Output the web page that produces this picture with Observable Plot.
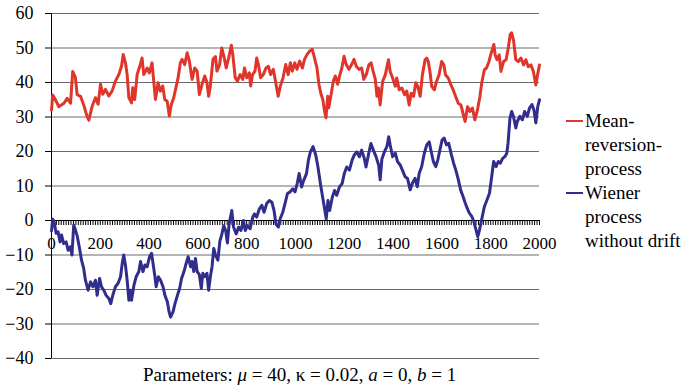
<!DOCTYPE html>
<html>
<head>
<meta charset="utf-8">
<script src="https://cdn.jsdelivr.net/npm/d3@7"></script>
<script src="https://cdn.jsdelivr.net/npm/@observablehq/plot@0.6"></script>
<style>
  html, body { margin: 0; padding: 0; background: #fff; }
  #wrap { position: relative; width: 687px; height: 392px; font-family: "Liberation Serif", "DejaVu Serif", "Noto Serif", serif; color: #000; }
  #chart svg { display: block; }
  #legend { position: absolute; left: 566px; top: 108.7px; font-size: 19px; line-height: 24px; }
  .item { position: relative; padding-left: 19px; }
  .sw { position: absolute; left: 0; top: 11px; width: 17px; height: 2px; }
  #caption { position: absolute; left: 143px; top: 363px; font-size: 19px; line-height: 24px; white-space: nowrap; }
</style>
</head>
<body>
<div id="wrap">
  <div id="chart"></div>
  <div id="legend"></div>
  <div id="caption">Parameters: <i>μ</i> = 40, κ = 0.02, <i>a</i> = 0, <i>b</i> = 1</div>
</div>
<script>
// ---- data ----
const seriesNames = ["Mean-\nreversion-\nprocess", "Wiener\nprocess\nwithout drift"];
const seriesColors = ["#e0352b", "#312d8c"];

const yTicks = [-40, -30, -20, -10, 0, 10, 20, 30, 40, 50, 60];
const xTicks = [0, 200, 400, 600, 800, 1000, 1200, 1400, 1600, 1800, 2000];

const redX = [0,5,16,30,51,64,78,87,98,105,119,132,146,153,167,180,191,201,210,221,235,248,262,276,287,294,303,310,317,328,333,341,351,364,371,378,392,401,412,419,426,437,446,456,464,474,483,491,501,510,519,528,535,546,556,565,576,587,597,606,617,628,637,644,651,662,672,678,689,698,708,716,726,737,743,753,762,773,784,791,800,811,816,824,834,841,848,857,868,879,889,898,909,918,929,938,949,960,970,979,987,997,1006,1017,1028,1037,1047,1058,1069,1078,1088,1096,1105,1112,1119,1125,1132,1136,1146,1155,1163,1173,1182,1190,1199,1208,1219,1230,1240,1249,1260,1271,1280,1290,1301,1310,1318,1327,1334,1340,1347,1357,1368,1381,1388,1398,1409,1415,1425,1436,1447,1456,1466,1474,1484,1493,1501,1511,1520,1531,1538,1544,1551,1558,1569,1578,1588,1599,1608,1615,1626,1637,1646,1656,1667,1678,1688,1695,1705,1715,1725,1735,1746,1756,1763,1774,1783,1793,1802,1813,1818,1826,1835,1842,1853,1863,1872,1880,1886,1894,1903,1913,1924,1935,1944,1954,1965,1975,1985,1992,2000];
const redY = [32,36.4,35,33,34,35.4,34,43.2,41.5,36.5,36,33.5,30.1,29.1,33.2,35.6,33.7,39.5,36.6,38,36.1,37.5,40.4,42.3,44.7,48.1,45.7,42.3,35.6,34.1,38.5,35.1,42.3,45.2,47.1,42.3,44.2,42.8,45.7,40.4,35.1,39.9,37.5,39,35.1,34.6,30.3,33.6,35.6,38.5,41.4,45.7,46.7,45.2,48.6,46.2,40.9,44.2,43.3,36.5,39.5,41.9,40,36,39,46.8,47.5,43.3,45.2,50,47.1,44.2,47.1,50.8,48.1,41.4,40.4,42.3,40.9,44.2,41.4,42.8,39,42.3,43.3,47.1,45.2,41.4,42.3,44.2,44.7,42.3,43.8,40.4,36,39,41.4,45.2,42.3,45.7,43.3,45.7,43.8,46.2,44.2,46.7,48.1,49.1,49.6,47.1,44.2,39.5,36.5,35.1,31.7,29.8,36,32.6,36.5,40.4,41.9,39.5,42.3,44.2,47.6,45.2,43.8,45.2,46.7,44.7,43.8,44.2,40.9,42.3,45.2,45.7,43.3,41,36,38.4,33.5,40.3,42.2,46.6,43.2,41.3,38.9,41.3,37.9,38.4,36.5,37.5,33.5,36.9,36,39.9,38.9,36,42.2,46.6,47.1,46.1,43.2,38.9,37.9,40.3,42.2,46.1,45.1,42.2,41.3,39.3,37.9,36,34,33.5,30.6,28.7,33,31.6,32.6,29.2,32.1,36,39.8,43.7,44.2,46.1,48.5,51,48,46.6,48,43.2,46.1,46.6,50,53.9,54.4,52,46.6,46.1,47.1,45.1,46.6,44.6,45.1,43.2,39.3,42.2,45.1];

const blueX = [0,5,11,19,27,35,41,50,60,68,77,84,91,98,106,115,123,132,139,150,160,170,180,187,197,205,214,224,235,243,251,262,273,283,290,296,303,310,317,324,328,338,347,358,365,375,383,392,402,410,415,424,429,438,447,457,465,475,482,488,498,506,516,525,533,543,550,560,570,576,583,590,597,606,614,620,628,637,644,651,658,665,672,682,690,698,706,714,721,728,739,746,757,767,776,787,794,803,814,825,832,841,852,862,871,882,893,903,912,920,930,937,948,957,967,978,989,998,1007,1015,1025,1034,1045,1053,1061,1072,1083,1092,1102,1110,1118,1126,1133,1140,1151,1160,1169,1180,1191,1200,1210,1221,1232,1241,1251,1262,1271,1282,1289,1300,1309,1319,1330,1341,1347,1354,1365,1375,1382,1388,1398,1409,1418,1429,1438,1449,1459,1470,1479,1490,1499,1507,1517,1528,1538,1548,1556,1565,1575,1583,1592,1601,1609,1619,1628,1639,1648,1657,1666,1677,1687,1696,1704,1713,1723,1731,1740,1747,1754,1764,1774,1785,1795,1804,1812,1822,1831,1839,1849,1858,1866,1871,1879,1886,1893,1903,1909,1920,1930,1939,1950,1959,1969,1977,1985,1993,2000];
const blueY = [-3,0.4,-0.5,-3.7,-3.3,-6.2,-4.2,-6.7,-6.2,-8.6,-7.6,-10,-1.3,-2.7,-4.7,-8.1,-11.5,-13.9,-17.3,-20.2,-17.8,-19.2,-17.3,-21.7,-16.8,-19.2,-20.2,-21.7,-22.6,-24.1,-21.7,-19.2,-18.2,-16.3,-12.4,-10,-12.9,-17.3,-23.1,-20.2,-23.1,-18.7,-16.3,-14.8,-11.9,-14.8,-12.9,-13.4,-10.5,-9.5,-11.9,-16.3,-19.2,-16.3,-17.3,-19.2,-21.7,-23.6,-26.5,-28,-26.5,-24.1,-21.7,-19.7,-16.8,-14.8,-12.9,-10.5,-13.4,-11.9,-14.8,-11,-14.8,-15.7,-19.7,-15.3,-16.3,-15.3,-20.2,-16.3,-13.4,-8.1,-10,-11.5,-6,-4,-1.5,-3,-6.5,-1,2.9,-1.9,-3.9,-1.9,-2.9,0,-2.9,-1.5,-2.4,1,1.9,1,3.4,4.4,2.4,4.9,5.8,5.3,2.9,-1,-1.9,0.5,2.4,4.9,7.8,8.3,9.2,8.3,10.7,13.6,9.7,11.7,13.6,17.5,19.9,21.4,19,15.5,10.7,7.3,3.9,0.5,5.8,2.9,6.8,8.7,7.3,9.7,10.7,13.6,15.5,14.6,17.5,19,19.9,18.5,20.4,18,15.5,19.4,22.3,20.4,18.5,16,11.8,17.8,20,21.5,24.3,21.9,18.5,19.5,17.1,16.1,14.6,12.7,12.2,8.9,10.8,12.2,9.8,13.7,15.6,19.5,21.9,22.8,20,17.1,15.6,17.5,20.5,23.4,23.9,21.9,22.4,19,16.6,14.6,12.2,8.8,6.9,5,3.5,2.1,1.1,-0.3,-2.8,-4.7,-2.8,0.6,4,6,7.9,12.7,17.1,15.6,17.1,16.6,18,18.5,19.5,22.4,29.7,31.6,30.2,26.8,28.7,30.2,29.2,31.6,30.2,32.6,33.6,32.1,28.3,33.1,35];

// ---- build ----
const red = redX.map((x, i) => ({x, y: redY[i]}));
const blue = blueX.map((x, i) => ({x, y: blueY[i]}));
const minorTicks = d3.range(0, 2001, 10);
const FONT = "'Liberation Serif', 'DejaVu Serif', 'Noto Serif', serif";

const chart = Plot.plot({
  width: 687,
  height: 392,
  marginLeft: 51,
  marginRight: 148,
  marginTop: 13,
  marginBottom: 34,
  x: {domain: [0, 2000], axis: null},
  y: {domain: [-40, 60], axis: null},
  style: {fontFamily: FONT, fontSize: "18px", background: "white", color: "black"},
  marks: [
    Plot.ruleY(yTicks.filter(d => d !== 0), {y: d => d, stroke: "#6a6a6a", strokeWidth: 1}),
    Plot.axisY(yTicks, {label: null, tickSize: 6, tickPadding: 12, fontSize: 18, fontFamily: FONT, stroke: "#000", fill: "#000"}),
    Plot.ruleX([0], {stroke: "#000", strokeWidth: 1}),
    Plot.ruleY([0], {stroke: "#000", strokeWidth: 1}),
    Plot.ruleX(minorTicks, {x: d => d, y1: 0, y2: -1.45, stroke: "#000", strokeWidth: 1}),
    Plot.text(xTicks, {x: d => d, y: 0, dy: 23, text: d => String(d), fontSize: 17, fontFamily: FONT, fill: "#000"}),
    Plot.line(red, {x: "x", y: "y", stroke: seriesColors[0], strokeWidth: 3, strokeLinejoin: "round"}),
    Plot.line(blue, {x: "x", y: "y", stroke: seriesColors[1], strokeWidth: 3, strokeLinejoin: "round"})
  ]
});
document.getElementById("chart").appendChild(chart);

// legend
const legend = document.getElementById("legend");
seriesNames.forEach((name, i) => {
  const item = document.createElement("div");
  item.className = "item";
  const sw = document.createElement("span");
  sw.className = "sw";
  sw.style.background = seriesColors[i];
  item.appendChild(sw);
  name.split("\n").forEach(line => {
    const d = document.createElement("div");
    d.textContent = line;
    item.appendChild(d);
  });
  legend.appendChild(item);
});
</script>
</body>
</html>
